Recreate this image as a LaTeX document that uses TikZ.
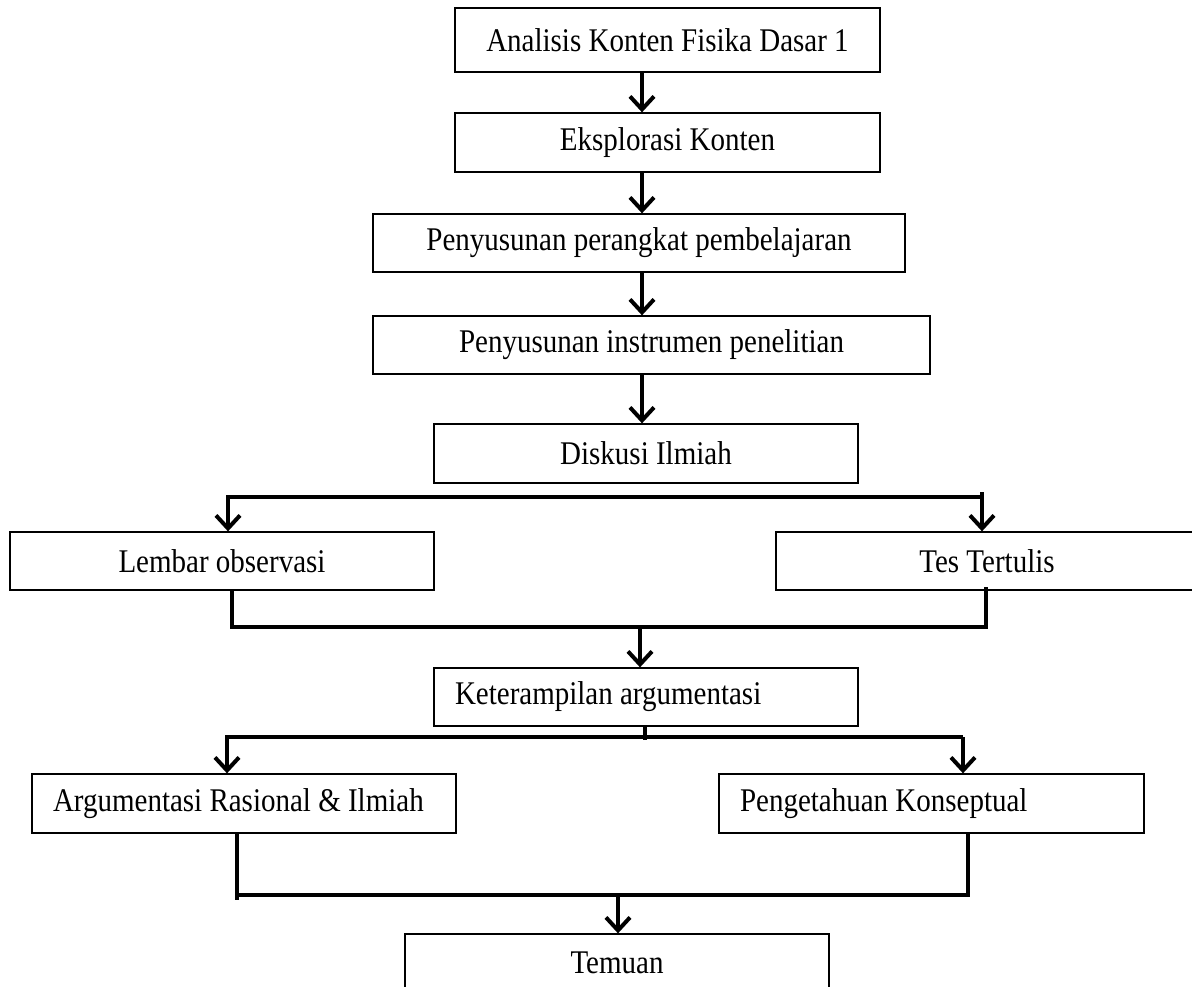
\documentclass[tikz,border=0pt]{standalone}
\usepackage{fontspec}
\setmainfont{Liberation Serif}
\usetikzlibrary{arrows.meta,calc}
\newcommand{\vstretch}[1]{\scalebox{1}[1.14]{#1}}
\begin{document}
\begin{tikzpicture}[x=1pt,y=-1pt,
  box/.style={draw, line width=1.3pt, inner sep=0pt, font=\fontsize{29}{34}\selectfont, align=center, minimum height=58pt},
  lbox/.style={box, align=flush left, inner xsep=21pt, text width=382pt},
  conn/.style={line width=4pt, line join=miter},
  arr/.style={line width=4pt, line join=miter, -{Straight Barb[length=13pt,width=24pt]}}]
\useasboundingbox (0,0) rectangle (1192,986);
\clip (0,0) rectangle (1192,986);
% boxes
\node[box, minimum width=425pt, minimum height=64pt] (b1) at (667.5,40) {\vstretch{Analisis Konten Fisika Dasar 1}};
\node[box, minimum width=425pt, minimum height=59pt] (b2) at (667.5,142.5) {\vstretch{Eksplorasi Konten}};
\node[box, minimum width=532pt] (b3) at (639,243) {\vstretch{Penyusunan perangkat pembelajaran}};
\node[box, minimum width=557pt] (b4) at (651.5,345) {\vstretch{Penyusunan instrumen penelitian}};
\node[box, minimum width=424pt, minimum height=59pt] (b5) at (646,453.5) {\vstretch{Diskusi Ilmiah}};
\node[box, minimum width=424pt] (b6) at (222,561) {\vstretch{Lembar observasi}};
\node[box, minimum width=422pt] (b7) at (987,561) {\vstretch{Tes Tertulis}};
\node[lbox] (b8) at (646,697) {\vstretch{Keterampilan argumentasi}};
\node[lbox, minimum height=59pt] (b9) at (244,803.5) {\vstretch{Argumentasi Rasional \& Ilmiah}};
\node[lbox, minimum height=59pt, text width=383pt] (b10) at (931.5,803.5) {\vstretch{Pengetahuan Konseptual}};
\node[box, minimum width=424pt] (b11) at (617,963) {\vstretch{Temuan}};
% coordinates
\coordinate (xa) at (642,0);
\coordinate (j1L) at (228,497);
\coordinate (j1R) at (982,497);
\coordinate (j1Rt) at (982,492);
\coordinate (m1L) at (232,627);
\coordinate (m1R) at (988,627);
\coordinate (m1Rv) at (986,627);
\coordinate (m1Rt) at (986,587);
\coordinate (m1A) at (640,627);
\coordinate (s2) at (645,740);
\coordinate (j2L) at (227,737);
\coordinate (j2R) at (963,737);
\coordinate (m2L) at (237,895);
\coordinate (m2Lb) at (237,900);
\coordinate (m2R) at (968,895);
\coordinate (m2A) at (618,895);
% connectors
\draw[arr] (b1.south -| xa) -- (b2.north -| xa);
\draw[arr] (b2.south -| xa) -- (b3.north -| xa);
\draw[arr] (b3.south -| xa) -- (b4.north -| xa);
\draw[arr] (b4.south -| xa) -- (b5.north -| xa);
\draw[arr] (j1R) -- (j1L) -- (j1L |- b6.north);
\draw[arr] (j1Rt) -- (j1R |- b7.north);
\draw[conn] (b6.south -| m1L) -- (m1L) -- (m1R);
\draw[conn] (m1Rt) -- (m1Rv);
\draw[arr] (m1A) -- (b8.north -| m1A);
\draw[conn] (b8.south -| s2) -- (s2);
\draw[arr] (j2R) -- (j2L) -- (j2L |- b9.north);
\draw[arr] (j2R) -- (j2R |- b10.north);
\draw[conn] (b9.south -| m2L) -- (m2Lb);
\draw[conn] (m2L) -- (m2R) -- (m2R |- b10.south);
\draw[arr] (m2A) -- (b11.north -| m2A);
\end{tikzpicture}
\end{document}
